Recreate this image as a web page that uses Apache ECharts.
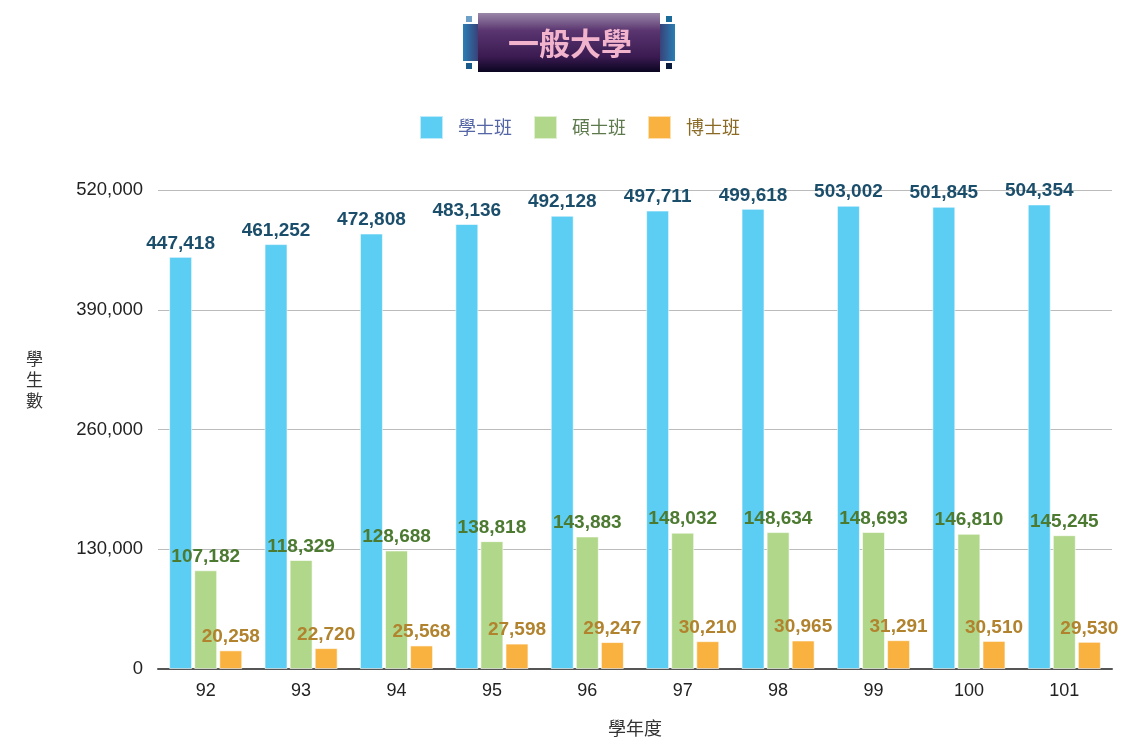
<!DOCTYPE html>
<html><head><meta charset="utf-8">
<script src="https://cdn.jsdelivr.net/npm/echarts@6/dist/echarts.min.js"></script>
<style>html,body{margin:0;padding:0;background:#fff}#c{width:1137px;height:739px}</style>
</head><body><div id="c"></div>
<script>
const categories = ['92','93','94','95','96','97','98','99','100','101'];
const bachelor = [447418,461252,472808,483136,492128,497711,499618,503002,501845,504354];
const master = [107182,118329,128688,138818,143883,148032,148634,148693,146810,145245];
const doctor = [20258,22720,25568,27598,29247,30210,30965,31291,30510,29530];
const seriesNames = ['學士班','碩士班','博士班'];
const yTicks = {min:0, max:520000, interval:130000};
const yAxisName = '學\n生\n數';

const chart = echarts.init(document.getElementById('c'));
const fmt = v => v.toLocaleString('en-US');
const font = '"Liberation Sans", Arial, sans-serif';
const cjk = '"Noto Sans CJK TC", sans-serif';
function mk(name, data, color, labelColor){
  return {name, type:'bar', data, barWidth:23, barGap:'9%',
    itemStyle:{color, borderColor:'rgba(255,255,255,0.6)', borderWidth:1},
    label:{show:true, position:'top', distance:4, color:labelColor, fontFamily:font, fontWeight:'bold', fontSize:19,
      formatter:p=>fmt(p.value)}};
}
chart.setOption({
  animation:false,
  graphic:[
    {type:'group', left:463, top:13, children:[
      {type:'rect', shape:{x:0,y:11,width:212,height:37}, style:{fill:{type:'linear',x:0,y:0,x2:1,y2:0,colorStops:[{offset:0,color:'#2a7fb5'},{offset:0.08,color:'#3a3a70'},{offset:0.92,color:'#3a3a70'},{offset:1,color:'#2a7fb5'}]}}},
      {type:'rect', shape:{x:15,y:0,width:182,height:59}, style:{fill:{type:'linear',x:0,y:0,x2:0,y2:1,colorStops:[{offset:0,color:'#9a88a8'},{offset:0.3,color:'#5a3570'},{offset:0.75,color:'#3a1a50'},{offset:1,color:'#0a0520'}]}}},
      {type:'rect', shape:{x:3,y:3,width:6,height:6}, style:{fill:'#6fa0c8'}},
      {type:'rect', shape:{x:203,y:3,width:6,height:6}, style:{fill:'#1a6a9a'}},
      {type:'rect', shape:{x:3,y:50,width:6,height:6}, style:{fill:'#1a5a8a'}},
      {type:'rect', shape:{x:203,y:50,width:6,height:6}, style:{fill:'#0a1a3a'}},
      {type:'text', x:107, y:30, style:{text:'一般大學', fill:'#f2b4cc', font:'bold 31px '+cjk, textAlign:'center', textVerticalAlign:'middle'}}
    ]},
    {type:'text', left:26, top:348, style:{text:yAxisName, fill:'#333', font:'17px '+cjk, lineHeight:21}}
  ],
  legend:{top:110, left:414, itemWidth:23, itemHeight:23, itemGap:21, icon:'rect',
    data:[
      {name:'學士班', textStyle:{color:'#5566a6'}},
      {name:'碩士班', textStyle:{color:'#5d7a4c'}},
      {name:'博士班', textStyle:{color:'#8a6a25'}}],
    textStyle:{fontFamily:cjk, fontSize:18, padding:[0,0,0,10]}},
  grid:{left:158, right:25, top:190, bottom:70, containLabel:false, outerBoundsMode:'none'},
  xAxis:{type:'category', data:categories, name:'學年度', nameLocation:'middle', nameGap:50,
    nameTextStyle:{fontFamily:cjk, fontSize:18, color:'#333'},
    axisLine:{lineStyle:{color:'#555', width:2}}, axisTick:{show:false},
    axisLabel:{fontFamily:font, fontSize:18, color:'#222', margin:13}},
  yAxis:{type:'value', min:yTicks.min, max:yTicks.max, interval:yTicks.interval,
    axisLine:{show:false}, axisTick:{show:false},
    splitLine:{lineStyle:{color:'#bbb', width:1}},
    axisLabel:{fontFamily:font, fontSize:18.5, color:'#222', margin:15, formatter:v=>fmt(v)}},
  series:[
    mk(seriesNames[0], bachelor, '#5ccdf3', '#1b4e6b'),
    mk(seriesNames[1], master, '#b1d78a', '#4b7a30'),
    mk(seriesNames[2], doctor, '#f9b23f', '#b1832e')
  ]
});
</script></body></html>
